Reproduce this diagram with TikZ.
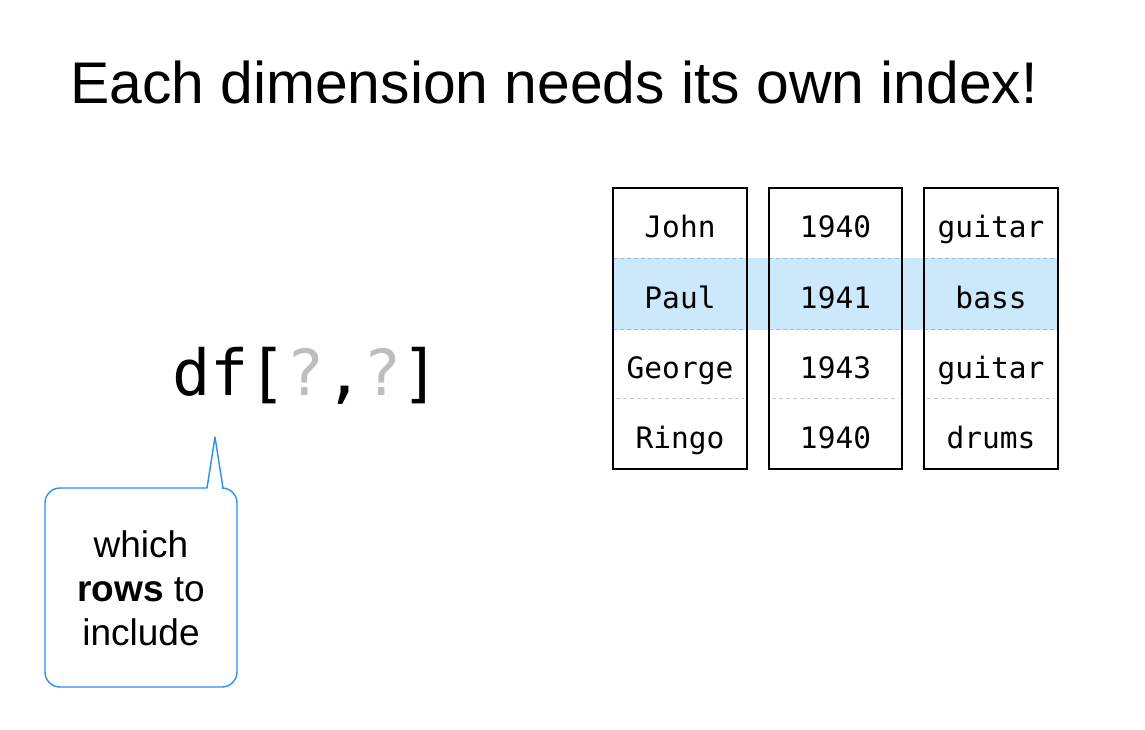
\documentclass[tikz,border=0pt]{standalone}
\usepackage{fontspec}
\setmainfont{Liberation Sans}
\setmonofont{DejaVu Sans Mono}
\definecolor{rowblue}{HTML}{CCE8FB}
\definecolor{rowline}{HTML}{9FBCD2}
\definecolor{cellline}{HTML}{C8C8C8}
\definecolor{qgray}{HTML}{BDBDBD}
\definecolor{calloutblue}{HTML}{2B8EF0}

\begin{document}
\begin{tikzpicture}[x=1pt,y=-1pt]
  \tikzstyle{cellbox}=[minimum width=134pt, minimum height=70pt, inner sep=0pt, text height=34pt, text depth=6pt, font=\fontsize{29.5}{29.5}\ttfamily]
  \tikzstyle{colbox}=[draw=black, line width=1.8pt]
  \tikzstyle{rowsep}=[dashed, dash pattern=on 4pt off 3pt, line width=1pt]
  \useasboundingbox (0,0) rectangle (1145,729);

  \node[anchor=base west, inner sep=0pt, font=\fontsize{58.8}{58.8}\selectfont] (title) at (70,103) {Each dimension needs its own index!};

  % highlighted row
  \fill[rowblue] (613,258) rectangle (1058,330);

  % names
  \node[cellbox] (name1) at (680,223) {John};
  \node[cellbox] (name2) at (680,294) {Paul};
  \node[cellbox] (name3) at (680,364) {George};
  \node[cellbox] (name4) at (680,434) {Ringo};
  % years
  \node[cellbox, minimum width=133pt] (year1) at (835.5,223) {1940};
  \node[cellbox, minimum width=133pt] (year2) at (835.5,294) {1941};
  \node[cellbox, minimum width=133pt] (year3) at (835.5,364) {1943};
  \node[cellbox, minimum width=133pt] (year4) at (835.5,434) {1940};
  % instruments
  \node[cellbox] (inst1) at (991,223) {guitar};
  \node[cellbox] (inst2) at (991,294) {bass};
  \node[cellbox] (inst3) at (991,364) {guitar};
  \node[cellbox] (inst4) at (991,434) {drums};

  \foreach \c in {name,year,inst} {
    \draw[rowsep, rowline] (\c2.north west) -- (\c2.north east);
    \draw[rowsep, rowline] (\c2.south west) -- (\c2.south east);
    \draw[rowsep, cellline] ([xshift=3pt]\c4.north west) -- ([xshift=-3pt]\c4.north east);
    \draw[colbox] (\c1.north west) rectangle (\c4.south east);
  }

  \node[anchor=base west, inner sep=0pt, font=\fontsize{63.5}{63.5}\ttfamily] (call) at (172,395) {df[\textcolor{qgray}{?},\textcolor{qgray}{?}]};

  % callout
  \draw[calloutblue, line width=1.4pt, line join=round] (207,488) -- (215,437) -- (223,488) -- (222,488)
    .. controls (230.3,488) and (237,494.7) .. (237,503) -- (237,672)
    .. controls (237,680.3) and (230.3,687) .. (222,687) -- (60,687)
    .. controls (51.7,687) and (45,680.3) .. (45,672) -- (45,503)
    .. controls (45,494.7) and (51.7,488) .. (60,488) -- cycle;
  \node[align=center, inner sep=0pt, font=\fontsize{37}{44}\selectfont] (rowsnote) at (141,588) {which\\\textbf{rows} to\\include};
\end{tikzpicture}
\end{document}
